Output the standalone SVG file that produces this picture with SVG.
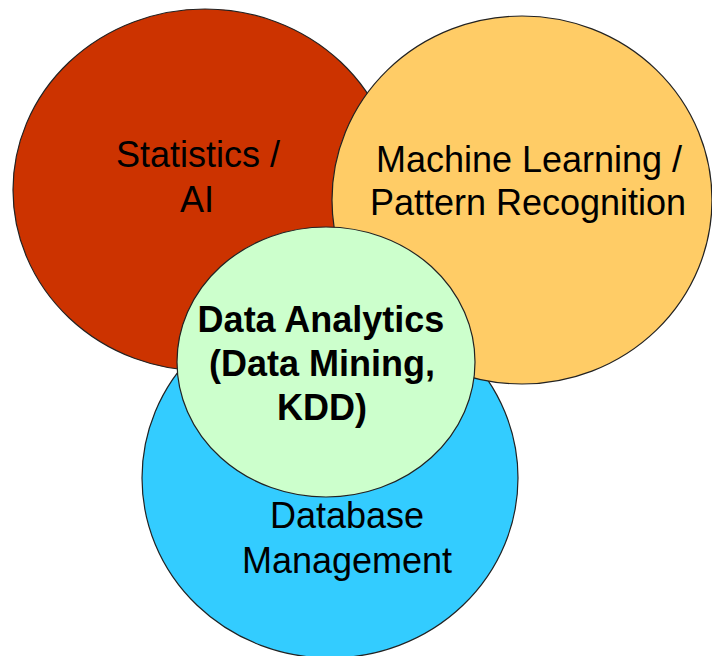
<svg xmlns="http://www.w3.org/2000/svg" width="712" height="656" viewBox="0 0 712 656">
<style>
.c{stroke:#222;stroke-width:1.2}
.t{font-family:"Liberation Sans",Arial,sans-serif;font-size:36px;text-anchor:middle;fill:#000}
.b{font-weight:bold}
</style>
<rect width="712" height="656" fill="#fff"/>
<g id="database">
<ellipse class="c" cx="330" cy="478" rx="188" ry="180" fill="#33CCFF"/>
</g>
<g id="statistics">
<ellipse class="c" cx="205" cy="190" rx="192" ry="181" fill="#CC3300"/>
</g>
<g id="machine-learning">
<ellipse class="c" cx="522" cy="200" rx="190" ry="184" fill="#FFCC66"/>
</g>
<g id="data-analytics">
<ellipse class="c" cx="326" cy="362" rx="149" ry="135" fill="#CCFFCC"/>
</g>
<g id="labels">
<text class="t" x="198" y="167">Statistics /</text>
<text class="t" x="197" y="212">AI</text>
<text class="t" x="529" y="172">Machine Learning /</text>
<text class="t" x="528" y="215">Pattern Recognition</text>
<text class="t b" x="321" y="332">Data Analytics</text>
<text class="t b" x="322" y="376">(Data Mining,</text>
<text class="t b" x="322" y="420">KDD)</text>
<text class="t" x="347" y="528">Database</text>
<text class="t" x="347" y="573">Management</text>
</g>
<g id="connectors"></g>
</svg>
